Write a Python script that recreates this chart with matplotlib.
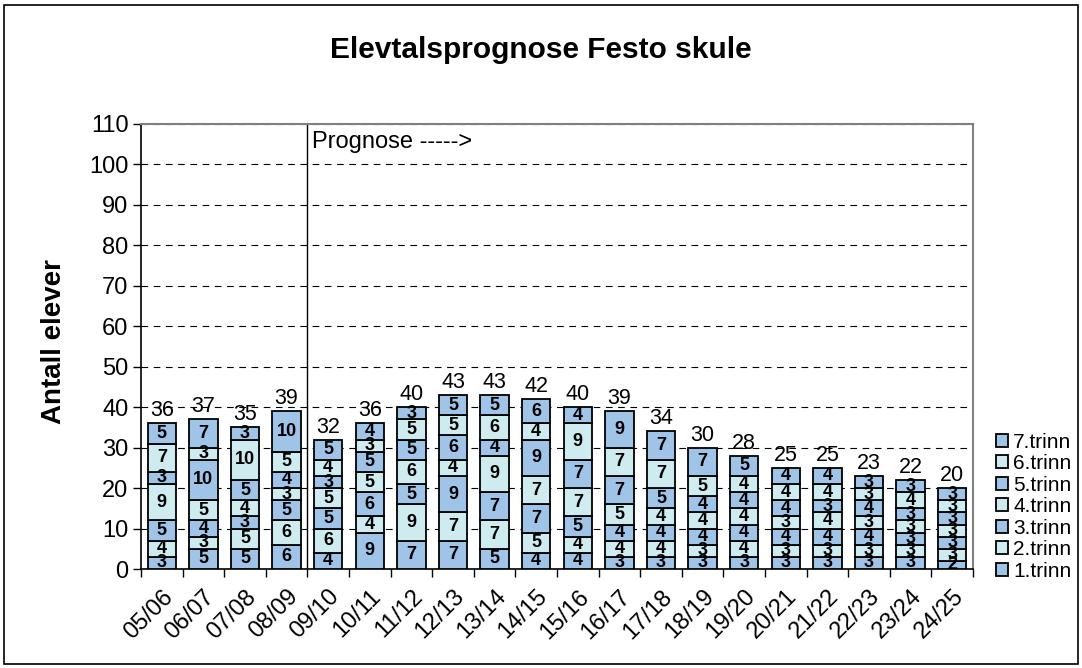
import numpy as np
import matplotlib
matplotlib.use("Agg")
from matplotlib import pyplot as plt
from matplotlib.patches import Rectangle

plt.rcParams['font.family'] = ['Liberation Sans', 'DejaVu Sans']

years = ['05/06', '06/07', '07/08', '08/09', '09/10', '10/11', '11/12', '12/13', '13/14', '14/15',
         '15/16', '16/17', '17/18', '18/19', '19/20', '20/21', '21/22', '22/23', '23/24', '24/25']
series_names = ['1.trinn', '2.trinn', '3.trinn', '4.trinn', '5.trinn', '6.trinn', '7.trinn']

trinn1 = [3, 5, 5, 6, 4, 9, 7, 7, 5, 4, 4, 3, 3, 3, 3, 3, 3, 3, 3, 2]
trinn2 = [4, 3, 5, 6, 6, 4, 9, 7, 7, 5, 4, 4, 4, 3, 4, 3, 3, 3, 3, 3]
trinn3 = [5, 4, 3, 5, 5, 6, 5, 9, 7, 7, 5, 4, 4, 4, 4, 4, 4, 4, 3, 3]
trinn4 = [9, 5, 4, 3, 5, 5, 6, 4, 9, 7, 7, 5, 4, 4, 4, 3, 4, 3, 3, 3]
trinn5 = [3, 10, 5, 4, 3, 5, 5, 6, 4, 9, 7, 7, 5, 4, 4, 4, 3, 4, 3, 3]
trinn6 = [7, 3, 10, 5, 4, 3, 5, 5, 6, 4, 9, 7, 7, 5, 4, 4, 4, 3, 4, 3]
trinn7 = [5, 7, 3, 10, 5, 4, 3, 5, 5, 6, 4, 9, 7, 7, 5, 4, 4, 3, 3, 3]

series = [trinn1, trinn2, trinn3, trinn4, trinn5, trinn6, trinn7]
dark = '#A0C4E8'
light = '#CEEBF0'
colors = [dark, light, dark, light, dark, light, dark]

fig = plt.figure(figsize=(10.82, 6.68), dpi=100)
ax = fig.add_axes([0.1303, 0.1482, 0.769, 0.6662])

x = np.arange(len(years))
bottom = np.zeros(len(years))
handles = []
for vals, name, c in zip(series, series_names, colors):
    vals = np.array(vals)
    h = ax.bar(x, vals, 0.68, bottom=bottom, color=c, edgecolor='black', linewidth=1.3, label=name, zorder=3)
    handles.append(h)
    for xi, b, v in zip(x, bottom, vals):
        ax.text(xi, b + v / 2, str(v), ha='center', va='center', fontsize=13, fontweight='bold', zorder=4)
    bottom += vals

for xi, tot in zip(x, bottom):
    ax.text(xi, tot + 0.5, str(int(tot)), ha='center', va='bottom', fontsize=15.5, zorder=4)

ax.set_xlim(-0.5, len(years) - 0.5)
ax.set_ylim(0, 110)
ax.set_yticks(range(0, 111, 10))
ax.tick_params(axis='y', labelsize=17, length=6, direction='out', width=1, pad=3)
ax.set_xticks(np.arange(-0.5, len(years), 1), minor=True)
ax.set_xticks(x)
ax.set_xticklabels(years, rotation=45, ha='right', rotation_mode='anchor', fontsize=17)
ax.tick_params(axis='x', which='major', length=0, pad=12)
ax.tick_params(axis='x', which='minor', length=6, width=1)

ax.yaxis.grid(True, linestyle=(0, (6, 5)), color='black', linewidth=0.8, zorder=0)
for s in ['top', 'right']:
    ax.spines[s].set_color('#808080')
    ax.spines[s].set_linewidth(1.5)
for s in ['left', 'bottom']:
    ax.spines[s].set_color('black')
    ax.spines[s].set_linewidth(1.2)

ax.axvline(3.5, color='black', linewidth=1, zorder=2)
ax.text(3.62, 105.5, 'Prognose ----->', fontsize=17, va='center', ha='left')

ax.set_ylabel('Antall elever', fontsize=20, fontweight='bold')
ax.yaxis.set_label_coords(-0.089, 0.51)
fig.text(0.5, 0.925, 'Elevtalsprognose Festo skule', ha='center', va='center', fontsize=21.5, fontweight='bold')

leg = ax.legend(handles[::-1], series_names[::-1], loc='center left', bbox_to_anchor=(1.027, 0.14),
                frameon=False, fontsize=15, handlelength=0.6, handleheight=0.6, handletextpad=0.25,
                labelspacing=0.12, borderaxespad=0, borderpad=0)

fig.patches.append(Rectangle((0.004, 0.006), 0.992, 0.987, transform=fig.transFigure,
                             fill=False, edgecolor='black', linewidth=1.2))

fig.savefig('out.png', dpi=100)
